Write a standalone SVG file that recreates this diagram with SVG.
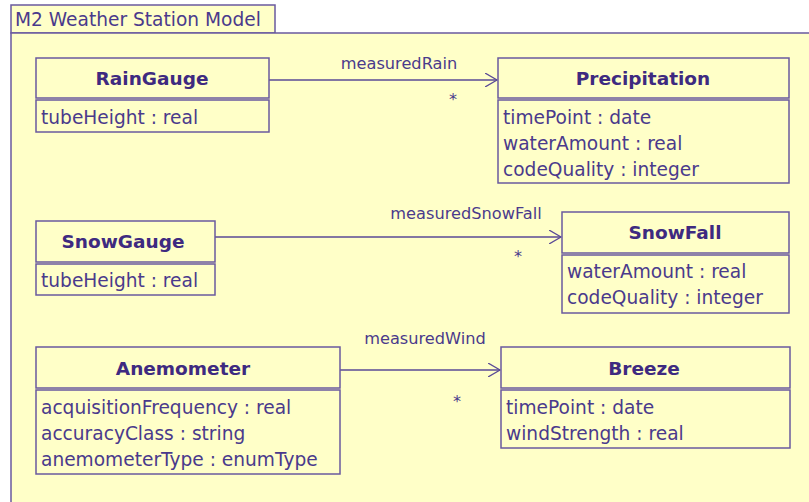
<svg xmlns="http://www.w3.org/2000/svg" width="809" height="502" viewBox="0 0 809 502">
<style>
.box{fill:#ffffc8;stroke:#6a5a9e;stroke-width:1.5}
.hd{font-family:"DejaVu Sans",Verdana,sans-serif;font-size:18.5px;font-weight:bold;fill:#3e2a80;text-anchor:middle}
.at{font-family:"DejaVu Sans",Verdana,sans-serif;font-size:18.6px;fill:#4a3a8c}
.lb{font-family:"DejaVu Sans",Verdana,sans-serif;font-size:16.2px;fill:#4a3a8c}
.ln{stroke:#5a4a96;stroke-width:1.3;fill:none}
</style>
<defs>
<marker id="arr" markerWidth="14" markerHeight="14" refX="12" refY="7" orient="auto" markerUnits="userSpaceOnUse">
<path d="M0,0 L12,7 L0,14" fill="none" stroke="#5a4a96" stroke-width="1.3"/>
</marker>
</defs>
<rect x="0" y="0" width="809" height="502" fill="#ffffff"/>
<g id="package">
<rect class="box" x="11" y="5" width="264" height="28"/>
<rect class="box" x="11" y="33" width="810" height="480"/>
<text x="15" y="26" class="at">M2 Weather Station Model</text>
</g>
<g id="connectors">
<line class="ln" x1="269" y1="80" x2="497" y2="80" marker-end="url(#arr)"/>
<text x="399" y="69" class="lb" text-anchor="middle">measuredRain</text>
<text x="453" y="105" class="lb" text-anchor="middle">*</text>
<line class="ln" x1="215" y1="237" x2="561" y2="237" marker-end="url(#arr)"/>
<text x="466" y="219" class="lb" text-anchor="middle">measuredSnowFall</text>
<text x="518" y="262" class="lb" text-anchor="middle">*</text>
<line class="ln" x1="340" y1="370" x2="500" y2="370" marker-end="url(#arr)"/>
<text x="425" y="344" class="lb" text-anchor="middle">measuredWind</text>
<text x="457" y="407" class="lb" text-anchor="middle">*</text>
</g>
<g id="RainGauge">
<rect class="box" x="36" y="58" width="233" height="40"/>
<rect class="box" x="36" y="100" width="233" height="32"/>
<text x="152" y="85" class="hd">RainGauge</text>
<text x="41" y="124" class="at">tubeHeight : real</text>
</g>
<g id="Precipitation">
<rect class="box" x="498" y="58" width="291" height="40"/>
<rect class="box" x="498" y="100" width="291" height="83"/>
<text x="643" y="85" class="hd">Precipitation</text>
<text x="503" y="124" class="at">timePoint : date</text>
<text x="503" y="150" class="at">waterAmount : real</text>
<text x="503" y="176" class="at">codeQuality : integer</text>
</g>
<g id="SnowGauge">
<rect class="box" x="36" y="221" width="179" height="41"/>
<rect class="box" x="36" y="264" width="179" height="31"/>
<text x="123" y="248" class="hd">SnowGauge</text>
<text x="41" y="287" class="at">tubeHeight : real</text>
</g>
<g id="SnowFall">
<rect class="box" x="562" y="212" width="227" height="41"/>
<rect class="box" x="562" y="255" width="227" height="58"/>
<text x="675" y="239" class="hd">SnowFall</text>
<text x="567" y="278" class="at">waterAmount : real</text>
<text x="567" y="304" class="at">codeQuality : integer</text>
</g>
<g id="Anemometer">
<rect class="box" x="36" y="347" width="304" height="41"/>
<rect class="box" x="36" y="390" width="304" height="84"/>
<text x="183" y="375" class="hd">Anemometer</text>
<text x="41" y="414" class="at">acquisitionFrequency : real</text>
<text x="41" y="440" class="at">accuracyClass : string</text>
<text x="41" y="466" class="at">anemometerType : enumType</text>
</g>
<g id="Breeze">
<rect class="box" x="501" y="347" width="289" height="41"/>
<rect class="box" x="501" y="390" width="289" height="58"/>
<text x="644" y="375" class="hd">Breeze</text>
<text x="506" y="414" class="at">timePoint : date</text>
<text x="506" y="440" class="at">windStrength : real</text>
</g>
</svg>
